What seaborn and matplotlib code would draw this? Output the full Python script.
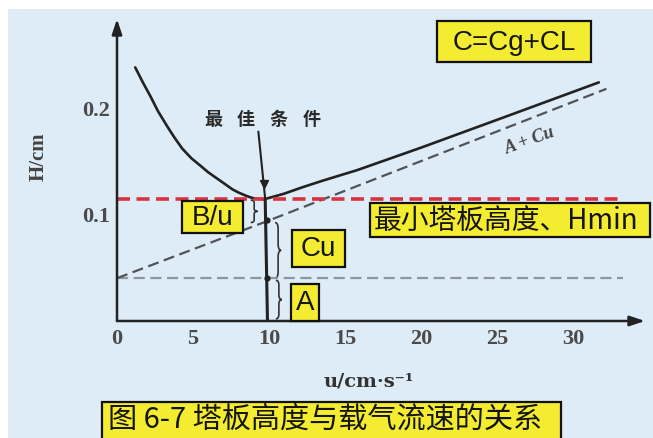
import matplotlib
matplotlib.use('Agg')
import matplotlib.pyplot as plt
import seaborn as sns
from matplotlib.patches import Rectangle, PathPatch
from matplotlib.path import Path

# ---- data ----
u_curve = [1.2, 1.7, 2.2, 2.7, 3.3, 3.8, 4.3, 4.9, 5.5, 6.0, 6.6, 7.1, 7.6, 8.0, 8.5, 8.9,
           9.3, 9.7, 10.0, 10.5, 11.0, 11.6, 12.2, 13.5, 15.8, 20.0, 25.0, 31.7]
h_curve = [0.237, 0.223, 0.210, 0.196, 0.182, 0.171, 0.161, 0.152, 0.145, 0.139, 0.133, 0.128,
           0.123, 0.120, 0.117, 0.115, 0.114, 0.114, 0.115, 0.117, 0.119, 0.122, 0.125, 0.131,
           0.141, 0.162, 0.188, 0.223]
u_acu = [0.0, 10.0, 32.2]
h_acu = [0.040, 0.094, 0.217]
u_flat = [0.0, 33.3]
h_a = [0.040, 0.040]
h_min = [0.114, 0.114]
u_opt = 9.9
x_ticks = [0, 5, 10, 15, 20, 25, 30]
y_ticks = [0.1, 0.2]

W, H = 653, 439
sns.set_style('white')
plt.rcParams['font.family'] = ['DejaVu Sans']

fig = plt.figure(figsize=(W / 100, H / 100), dpi=100)
fig.patch.set_facecolor('white')

# light blue scan background
fig.patches.append(Rectangle((8 / W, 0), 1, 1 - 10 / H, transform=fig.transFigure,
                             fc='#DDECF7', ec='none', zorder=-1))

ax = fig.add_axes([117 / W, (H - 322) / H, (645 - 117) / W, (322 - 15) / H])
ax.set_facecolor('none')
ax.set_xlim(0, (645 - 117) / 15.2)
ax.set_ylim(0, (322 - 15) / 1070)
for s in ax.spines.values():
    s.set_visible(False)

# curves
sns.lineplot(x=u_flat, y=h_a, ax=ax, color='#8f959c', lw=1.6, ls=(0, (5, 2.5)))
sns.lineplot(x=u_acu, y=h_acu, ax=ax, color='#505357', lw=1.6, ls=(0, (5, 2.5)))
sns.lineplot(x=u_curve, y=h_curve, ax=ax, color='#222222', lw=1.9)
sns.lineplot(x=u_flat, y=h_min, ax=ax, color='#D8343F', lw=2.6, ls=(0, (3.6, 1.8)))

# optimum vertical line with arrow
ax.plot([9.3, 9.75], [0.177, 0.114], color='#222', lw=1.5)
ax.plot([9.75, u_opt], [0.114, 0], color='#222', lw=2.2)
ax.plot([9.68], [0.128], marker='v', color='#222', ms=6)
ax.plot([u_opt, u_opt], [h_a[0], 0.094], 'o', color='#222', ms=3.5)
for i, ch in enumerate('最佳条件'):
    ax.text(6.3 + i * 2.17, 0.189, ch, ha='center', va='center', fontsize=13,
            fontweight='bold', color='#2a2a2a', family=['Noto Sans CJK SC'])

ax.text(27.2, 0.169, 'A + Cu', rotation=20, ha='center', va='center',
        fontsize=13, style='italic', fontweight='bold', color='#444', family='Liberation Serif')


def brace(x, y0, y1, w, lw=1.2):
    h = y1 - y0
    q = h * 0.12
    xm = x + w / 2
    ym = (y0 + y1) / 2
    verts = [(x, y0), (xm, y0), (xm, y0 + q), (xm, ym - q), (xm, ym), (x + w, ym),
             (xm, ym), (xm, ym + q), (xm, y1 - q), (xm, y1), (x, y1)]
    codes = [Path.MOVETO, Path.CURVE3, Path.CURVE3, Path.LINETO, Path.CURVE3, Path.CURVE3,
             Path.CURVE3, Path.CURVE3, Path.LINETO, Path.CURVE3, Path.CURVE3]
    ax.add_patch(PathPatch(Path(verts, codes), fill=False, lw=lw, ec='#333'))


brace(8.8, 0.092, 0.113, 0.45)
brace(10.4, h_a[0], 0.092, 0.4)
brace(10.45, 0.002, 0.038, 0.4)

# axes with arrows
ax.annotate('', xy=(1, 0), xycoords='axes fraction', xytext=(0, 0),
            arrowprops=dict(arrowstyle='-|>,head_length=0.9,head_width=0.3', lw=1.8,
                            color='#222', shrinkA=0, shrinkB=0))
ax.annotate('', xy=(0, (322 - 20) / 307), xycoords='axes fraction', xytext=(0, 0),
            arrowprops=dict(arrowstyle='-|>,head_length=0.9,head_width=0.3', lw=1.8,
                            color='#222', shrinkA=0, shrinkB=0))

ax.set_xticks(x_ticks)
ax.set_xticklabels([str(t) for t in x_ticks])
ax.set_yticks(y_ticks)
ax.set_yticklabels(['0.1', '0.2'])
ax.tick_params(direction='in', length=8, width=1.6, color='#222', labelcolor='#4a4a4a', pad=5)
for lab in ax.get_xticklabels() + ax.get_yticklabels():
    lab.set_family('Liberation Serif')
    lab.set_fontsize(16)
    lab.set_fontweight('bold')

fig.text(39 / W, 1 - 157 / H, 'H/cm', rotation=90, ha='center', va='center',
         fontsize=15, fontweight='bold', color='#444', family='Liberation Serif')
fig.text(369 / W, 1 - 382 / H, 'u/cm·s⁻¹', ha='center', va='center',
         fontsize=14, fontweight='bold', color='#333', family='DejaVu Serif')


def px_box(x0, y0, x1, y1, text, fs=20, family='Liberation Sans', tx=None, ty=None):
    fig.patches.append(Rectangle((x0 / W, 1 - y1 / H), (x1 - x0) / W, (y1 - y0) / H,
                                 transform=fig.transFigure, fc='#F3EC30', ec='#111',
                                 lw=1.6, zorder=5))
    if ty is None:
        ty = (y0 + y1) / 2
    if tx is None:
        fig.text((x0 + x1) / 2 / W, 1 - ty / H, text, ha='center', va='center',
                 fontsize=fs, family=family, color='#151515', zorder=6)
    else:
        fig.text(tx / W, 1 - ty / H, text, ha='left', va='center',
                 fontsize=fs, family=family, color='#151515', zorder=6)


px_box(437, 22, 591, 63, 'C=Cg+CL')
px_box(182, 202, 243, 234, 'B/u')
px_box(292, 231, 345, 268, 'Cu')
px_box(291, 285, 319, 322, 'A')
px_box(370, 204, 650, 238, '最小塔板高度、Hmin', family=['Noto Sans CJK SC'], tx=374)
px_box(102, 403, 561, 450, '图 6-7 塔板高度与载气流速的关系', fs=21,
       family=['Noto Sans CJK SC'], tx=108, ty=420)

fig.savefig('out.png', dpi=100)
